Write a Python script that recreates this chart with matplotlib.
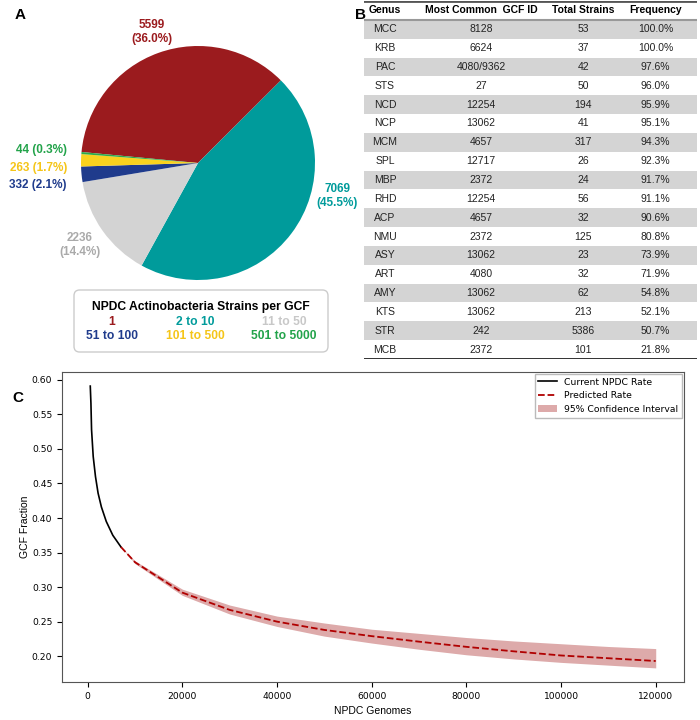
import matplotlib.pyplot as plt
from matplotlib.patches import FancyBboxPatch

# ---- panel A: GCFs by number of strains
strain_bins = ["1", "2 to 10", "11 to 50", "51 to 100", "101 to 500", "501 to 5000"]
gcf_counts = [5599, 7069, 2236, 332, 263, 44]

# ---- panel B: most common GCF per genus
genus = ["MCC", "KRB", "PAC", "STS", "NCD", "NCP", "MCM", "SPL", "MBP",
         "RHD", "ACP", "NMU", "ASY", "ART", "AMY", "KTS", "STR", "MCB"]
gcf_id = ["8128", "6624", "4080/9362", "27", "12254", "13062", "4657", "12717", "2372",
          "12254", "4657", "2372", "13062", "4080", "13062", "13062", "242", "2372"]
total_strains = [53, 37, 42, 50, 194, 41, 317, 26, 24, 56, 32, 125, 23, 32, 62, 213, 5386, 101]
frequency = [100.0, 100.0, 97.6, 96.0, 95.9, 95.1, 94.3, 92.3, 91.7,
             91.1, 90.6, 80.8, 73.9, 71.9, 54.8, 52.1, 50.7, 21.8]

# ---- panel C: GCF fraction vs number of genomes
current_x = [550, 690, 820, 1170, 1650, 2200, 2900, 3930, 5310, 7040]
current_y = [0.591, 0.566, 0.528, 0.489, 0.460, 0.436, 0.416, 0.395, 0.375, 0.358]
pred_x = [7040, 10000, 20000, 30000, 40000, 50000, 60000, 70000, 80000,
          90000, 100000, 110000, 120000]
pred_y = [0.358, 0.336, 0.292, 0.267, 0.250, 0.238, 0.229, 0.221, 0.2135,
          0.207, 0.201, 0.197, 0.193]
ci_low = [0.358, 0.334, 0.288, 0.261, 0.243, 0.229, 0.219, 0.210, 0.202,
          0.196, 0.191, 0.187, 0.183]
ci_high = [0.358, 0.338, 0.297, 0.274, 0.258, 0.248, 0.239, 0.233, 0.227,
           0.222, 0.218, 0.214, 0.211]

pie_colors = ["#9B1B1E", "#009B9B", "#D3D3D3", "#1F3B8C", "#F9D21E", "#2EAA4A"]
text_colors = ["#9B1B1E", "#009B9B", "#AAAAAA", "#1F3B8C", "#F5C518", "#22A34A"]
legend_colors = ["#9B1B1E", "#009B9B", "#C8C8C8", "#1F3B8C", "#F5C518", "#22A34A"]

ARIAL = "Liberation Sans"
W, H = 700, 720

fig = plt.figure(figsize=(7, 7.2), dpi=100)


def fx(px):
    return px / W


def fy(py):
    return 1 - py / H


# panel letters
for letter, (px, py) in zip("ABC", [(15, 15), (355, 15), (12, 398)]):
    fig.text(fx(px), fy(py), letter, fontsize=11, fontweight="bold",
             family=ARIAL, ha="left", va="center")

# ---------------- A: pie
ax_pie = fig.add_axes([fx(81), fy(280), fx(234), 234 / H])
ax_pie.pie(gcf_counts, colors=pie_colors, startangle=174.6, counterclock=False,
           wedgeprops=dict(linewidth=0))
ax_pie.set_xlim(-1, 1)
ax_pie.set_ylim(-1, 1)

total = sum(gcf_counts)
label_pos = [(-0.393, 1.12, "center"), (1.19, -0.28, "center"), (-1.01, -0.70, "center"),
             (-1.12, -0.188, "right"), (-1.12, -0.043, "right"), (-1.12, 0.111, "right")]
for i, (n, col) in enumerate(zip(gcf_counts, text_colors)):
    pct = 100 * n / total
    sep = "\n" if i < 3 else " "
    x, y, ha = label_pos[i]
    ax_pie.text(x, y, f"{n}{sep}({pct:.1f}%)", color=col, fontsize=8.5,
                fontweight="bold", family=ARIAL, ha=ha, va="center",
                multialignment="center", clip_on=False)

# legend box for pie
box = FancyBboxPatch((fx(74), fy(352)), fx(254), 62 / H,
                     boxstyle="round,pad=0,rounding_size=0.008",
                     transform=fig.transFigure, facecolor="white",
                     edgecolor="#CCCCCC", linewidth=1)
fig.patches.append(box)
fig.text(fx(201), fy(307), "NPDC Actinobacteria Strains per GCF", fontsize=8.7,
         fontweight="bold", family=ARIAL, ha="center", va="center")
col_x = [112, 195, 284]
row_y = [322, 336]
for i, (lab, col) in enumerate(zip(strain_bins, legend_colors)):
    fig.text(fx(col_x[i % 3]), fy(row_y[i // 3]), lab, color=col, fontsize=8.7,
             fontweight="bold", family=ARIAL, ha="center", va="center")

# ---------------- B: table
ax_tab = fig.add_axes([fx(364), fy(359), fx(333), 358 / H])
n_rows = len(genus)
ax_tab.set_xlim(0, 1)
ax_tab.set_ylim(n_rows + 1, 0)
ax_tab.axis("off")
col_cx = [0.063, 0.351, 0.658, 0.875]
headers = ["Genus", "Most Common  GCF ID", "Total Strains", "Frequency"]
for cx, h in zip(col_cx, headers):
    ax_tab.text(cx, 0.5, h, fontsize=7.5, fontweight="bold", family=ARIAL,
                ha="center", va="center")
for i in range(n_rows):
    y = i + 1.5
    if i % 2 == 0:
        ax_tab.axhspan(i + 1, i + 2, color="#D4D4D4", lw=0)
    row = [genus[i], gcf_id[i], str(total_strains[i]), f"{frequency[i]:.1f}%"]
    for cx, val in zip(col_cx, row):
        ax_tab.text(cx, y, val, fontsize=7.5, family=ARIAL, ha="center", va="center",
                    color="#222222")
ax_tab.axhline(0, color="#555555", lw=2)
ax_tab.axhline(1, color="#999999", lw=1.5)
ax_tab.axhline(n_rows + 1, color="#222222", lw=1.3)

# ---------------- C: rarefaction
ax = fig.add_axes([fx(62), fy(682), fx(684 - 62), (682 - 372) / H])
ax.plot(current_x, current_y, color="black", lw=1.2, label="Current NPDC Rate")
ax.plot(pred_x, pred_y, color="#B00000", lw=1.3, ls="--", label="Predicted Rate")
ax.fill_between(pred_x, ci_low, ci_high, color="#DDAAAA", lw=0,
                label="95% Confidence Interval")
ax.set_xticks([0, 20000, 40000, 60000, 80000, 100000, 120000])
ax.set_yticks([0.20, 0.25, 0.30, 0.35, 0.40, 0.45, 0.50, 0.55, 0.60])
ax.tick_params(labelsize=6.6)
ax.set_xlabel("NPDC Genomes", fontsize=7.5, family=ARIAL)
ax.set_ylabel("GCF Fraction", fontsize=7.5, family=ARIAL, labelpad=1)
for s in ax.spines.values():
    s.set_color("#555555")
ax.legend(loc="upper right", fontsize=6.7, borderaxespad=0.2, fancybox=False,
          edgecolor="#BBBBBB", framealpha=1)

fig.savefig("out.png", dpi=100)
